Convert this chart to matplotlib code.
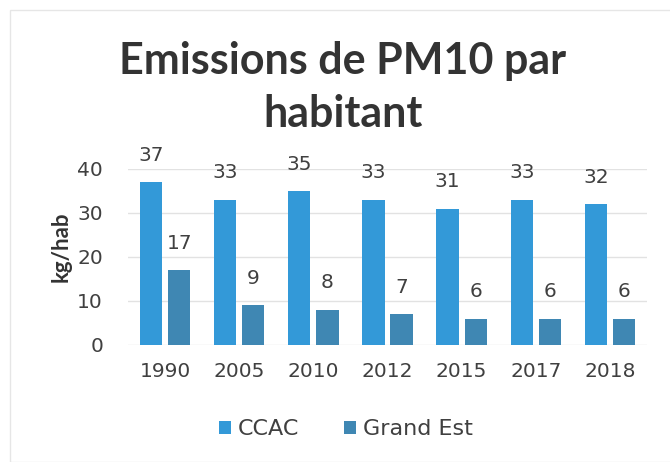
import numpy as np
import matplotlib.pyplot as plt
from matplotlib.patches import Rectangle

years = ["1990", "2005", "2010", "2012", "2015", "2017", "2018"]
ccac = [37, 33, 35, 33, 31, 33, 32]
grand_est = [17, 9, 8, 7, 6, 6, 6]

c_ccac = "#3399d8"
c_ge = "#3f87b3"
txt = "#404040"

plt.rcParams["font.family"] = ["DejaVu Sans"]

fig = plt.figure(figsize=(6.7, 4.62), dpi=100)
ax = fig.add_axes([128 / 670, 1 - 345 / 462, 519 / 670, 176 / 462])

x = np.arange(len(years))
w = 0.3
b1 = ax.bar(x - 0.19, ccac, w, color=c_ccac, zorder=3, label="CCAC")
b2 = ax.bar(x + 0.19, grand_est, w, color=c_ge, zorder=3, label="Grand Est")

for bars, vals in ((b1, ccac), (b2, grand_est)):
    for r, v in zip(bars, vals):
        ax.text(r.get_x() + r.get_width() / 2, v + 6.1, str(v), ha="center",
                va="center", fontsize=14.5, color=txt)

ax.set_xlim(-0.5, len(years) - 0.5)
ax.set_ylim(0, 40)
ax.set_yticks([0, 10, 20, 30, 40])
ax.set_xticks(x)
ax.set_xticklabels(years)
ax.tick_params(axis="both", length=0, labelsize=14.5, colors=txt)
ax.tick_params(axis="x", pad=12)
ax.tick_params(axis="y", pad=18)
ax.grid(axis="y", color="#e2e2e2", lw=1, zorder=0)
for s in ax.spines.values():
    s.set_visible(False)
ax.set_ylabel("kg/hab", fontsize=16, fontweight="bold", color="#333333",
              family=["Lato", "DejaVu Sans"], labelpad=2)
ax.yaxis.set_label_coords(-0.108, 0.56)

fig.text(0.512, 1 - 74 / 462, "Emissions de PM10 par", ha="center", va="baseline",
         fontsize=31, fontweight="bold", color="#333333", family=["Lato", "DejaVu Sans"])
fig.text(0.512, 1 - 127 / 462, "habitant", ha="center", va="baseline",
         fontsize=31, fontweight="bold", color="#333333", family=["Lato", "DejaVu Sans"])

ax.legend(loc="center", bbox_to_anchor=(0.42, -0.48), ncol=2, frameon=False,
          fontsize=16, handlelength=0.55, handleheight=0.55, handletextpad=0.3,
          columnspacing=2.0, labelcolor=txt)

fig.patches.append(Rectangle((10 / 670, 0.0), 1.0, 1 - 10 / 462, transform=fig.transFigure,
                             fill=False, edgecolor="#e6e6e6", lw=1))

fig.savefig("out.png", dpi=100)
